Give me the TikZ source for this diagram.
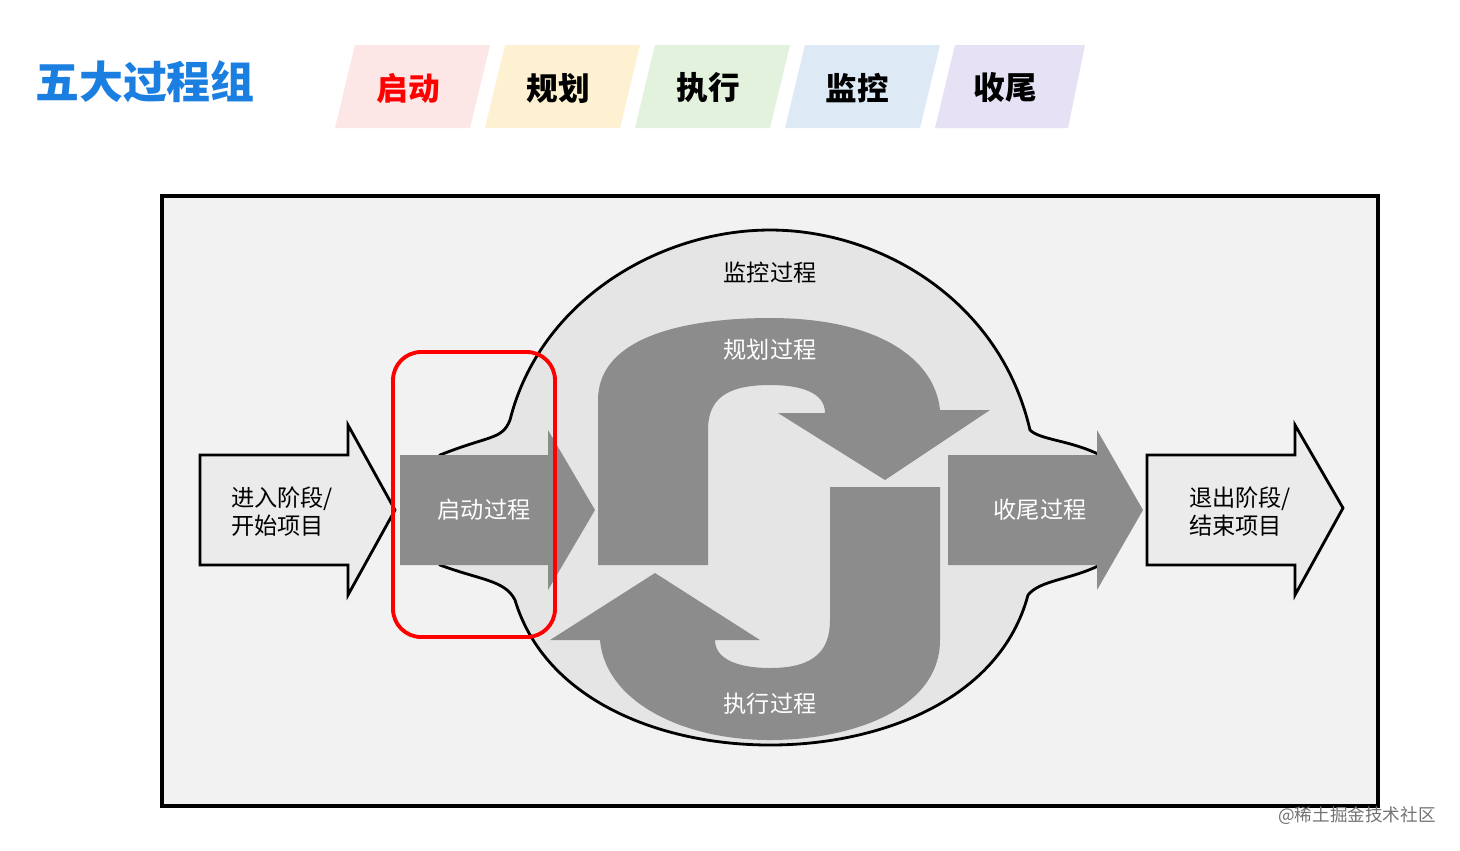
\documentclass[tikz,border=0pt]{standalone}
\usepackage{fontspec}
\setmainfont{Noto Sans CJK SC}
\definecolor{titleblue}{HTML}{1A7FE0}
\definecolor{tabred}{HTML}{FDE6E6}
\definecolor{tabyellow}{HTML}{FDF1D2}
\definecolor{tabgreen}{HTML}{E3F2DD}
\definecolor{tabblue}{HTML}{DDEAF6}
\definecolor{tabviolet}{HTML}{E7E1F6}
\definecolor{flowgray}{HTML}{8C8C8C}
\tikzset{
    tab/.style={font=\fontsize{9}{9}\selectfont\bfseries},
    light/.style={fill=black!8, draw=black, line width=0.8pt},
    dark/.style={fill=flowgray},
    inlabel/.style={font=\fontsize{6.6}{8}\selectfont, text=white, align=left},
    outlabel/.style={font=\fontsize{6.6}{8}\selectfont, align=left}
}
\begin{document}
\begin{tikzpicture}[x=0.01cm, y=-0.01cm]
\useasboundingbox (0,0) rectangle (1460,850);
\fill[white] (0,0) rectangle (1460,850);

% title and tabs
\node[font=\fontsize{12.5}{12.5}\selectfont\bfseries, text=titleblue] (title) at (145,82) {五大过程组};
\fill[tabred]    (335,128) -- (355,45) -- (490,45) -- (470,128) -- cycle;
\fill[tabyellow] (485,128) -- (505,45) -- (640,45) -- (620,128) -- cycle;
\fill[tabgreen]  (635,128) -- (655,45) -- (790,45) -- (770,128) -- cycle;
\fill[tabblue]   (785,128) -- (805,45) -- (940,45) -- (920,128) -- cycle;
\fill[tabviolet] (935,128) -- (955,45) -- (1085,45) -- (1068,128) -- cycle;
\node[tab, text=red] (tqd) at (408,88) {启动};
\node[tab] (tgh) at (558,88) {规划};
\node[tab] (tzx) at (708,88) {执行};
\node[tab] (tjk) at (857,88) {监控};
\node[tab] (tsw) at (1005,88) {收尾};

% frame
\draw[fill=black!5, line width=0.9pt] (162,196) rectangle (1378,806);

% monitoring blob
\draw[light, fill=black!10]
  (440,455) .. controls (490,435) and (502,440) .. (510,420)
  .. controls (540,300) and (660,230) .. (770,230)
  .. controls (880,230) and (1000,300) .. (1030,430)
  .. controls (1040,440) and (1070,440) .. (1100,455)
  -- (1100,565) .. controls (1070,580) and (1040,580) .. (1028,595)
  .. controls (1000,700) and (880,745) .. (770,745)
  .. controls (660,745) and (545,700) .. (515,600)
  .. controls (505,580) and (480,580) .. (440,565) -- cycle;

% enter / exit arrows
\draw[light] (200,455) -- (348,455) -- (348,425) -- (395,510) -- (348,595) -- (348,565) -- (200,565) -- cycle;
\draw[light] (1147,455) -- (1295,455) -- (1295,425) -- (1343,508) -- (1295,595) -- (1295,565) -- (1147,565) -- cycle;

% initiating / closing arrows
\fill[dark] (400,455) -- (548,455) -- (548,430) -- (595,510) -- (548,590) -- (548,565) -- (400,565) -- cycle;
\fill[dark] (948,455) -- (1097,455) -- (1097,430) -- (1143,510) -- (1097,590) -- (1097,565) -- (948,565) -- cycle;

% planning loop
\fill[dark] (598,565) -- (598,400) .. controls (598,335) and (690,318) .. (770,318)
  .. controls (880,318) and (935,360) .. (940,410) -- (990,410) -- (885,480) -- (778,413) -- (825,413)
  .. controls (825,392) and (800,385) .. (770,385) .. controls (725,385) and (708,400) .. (708,430)
  -- (708,565) -- cycle;
% executing loop
\fill[dark] (940,487) -- (940,640) .. controls (940,710) and (850,740) .. (770,740)
  .. controls (680,740) and (605,700) .. (600,640) -- (550,640) -- (655,573) -- (760,640) -- (715,640)
  .. controls (715,660) and (740,668) .. (770,668) .. controls (815,668) and (830,650) .. (830,620)
  -- (830,487) -- cycle;

% highlight
\draw[red, line width=1.1pt, rounded corners=8pt] (393,352) rectangle (555,637);

% labels
\node[outlabel] (enter) at (282,512) {进入阶段/\\开始项目};
\node[outlabel] (leave) at (1240,512) {退出阶段/\\结束项目};
\node[inlabel] (init) at (484,510) {启动过程};
\node[inlabel] (close) at (1040,510) {收尾过程};
\node[inlabel] (plan) at (770,350) {规划过程};
\node[inlabel] (exec) at (770,704) {执行过程};
\node[outlabel] (mon) at (770,273) {监控过程};
\node[font=\fontsize{5}{5}\selectfont, text=black!55] (mark) at (1357,816) {@稀土掘金技术社区};
\end{tikzpicture}
\end{document}
